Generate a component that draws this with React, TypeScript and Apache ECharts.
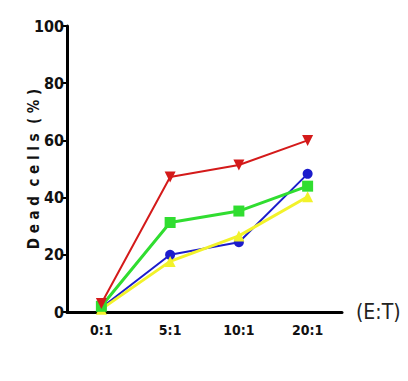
import React, { useEffect, useRef } from "react";
import * as echarts from "echarts";

const categories = ["0:1", "5:1", "10:1", "20:1"];
const redValues = [3, 47.2, 51.4, 60];
const greenValues = [2, 31.3, 35.3, 44];
const blueValues = [1.5, 20, 24.4, 48.3];
const yellowValues = [1, 17.7, 26.6, 40.3];
const yTicks = [0, 20, 40, 60, 80, 100];

const FONT = "'DejaVu Sans Condensed', 'Liberation Sans Narrow', 'Liberation Sans', Arial, sans-serif";

export default function App() {
  const ref = useRef<HTMLDivElement>(null);
  useEffect(() => {
    const chart = echarts.init(ref.current!, null, { renderer: "svg" });
    const mk = (name: string, data: number[], color: string, symbol: string, width: number, size: number) => ({
      name,
      type: "line",
      data,
      symbol,
      symbolSize: size,
      itemStyle: { color },
      lineStyle: { color, width },
      z: 3,
    });
    chart.setOption({
      animation: false,
      backgroundColor: "#ffffff",
      grid: { left: 67, top: 26, right: 66, bottom: 69, containLabel: false },
      xAxis: {
        type: "category",
        data: categories,
        boundaryGap: true,
        axisLine: { lineStyle: { color: "#000", width: 3 } },
        axisTick: { alignWithLabel: true, length: 6, lineStyle: { color: "#000", width: 2 } },
        axisLabel: { color: "#111", fontFamily: FONT, fontWeight: "bold", fontSize: 14, margin: 11 },
        name: "(E:T)",
        nameLocation: "end",
        nameGap: 14,
        nameTextStyle: { color: "#222", fontFamily: FONT, fontSize: 21, verticalAlign: "middle", padding: [6, 0, 0, 0] },
      },
      yAxis: {
        type: "value",
        min: 0,
        max: 100,
        interval: 20,
        splitLine: { show: false },
        axisLine: { show: true, lineStyle: { color: "#000", width: 3 } },
        axisTick: { show: true, length: 6, lineStyle: { color: "#000", width: 2 } },
        axisLabel: {
          color: "#111",
          fontFamily: FONT,
          fontWeight: "bold",
          fontSize: 16,
          margin: 3,
          formatter: (v: number) => (yTicks.includes(v) ? String(v) : ""),
        },
        name: "D e a d  c e l l s  ( % )",
        nameLocation: "middle",
        nameGap: 26,
        nameMoveOverlap: false,
        nameRotate: 90,
        nameTextStyle: { color: "#111", fontFamily: FONT, fontWeight: "bold", fontSize: 15 },
      },
      series: [
        mk("blue", blueValues, "#1c1ccc", "circle", 2, 10),
        mk("yellow", yellowValues, "#f2f22a", "triangle", 3, 11),
        mk("green", greenValues, "#30dd30", "rect", 3, 11),
        mk("red", redValues, "#d41a1a", "path://M0,0 L10,0 L5,10 Z", 2, 11),
      ],
    });
    return () => chart.dispose();
  }, []);
  return <div ref={ref} style={{ width: 408, height: 381, margin: -8 }} />;
}
